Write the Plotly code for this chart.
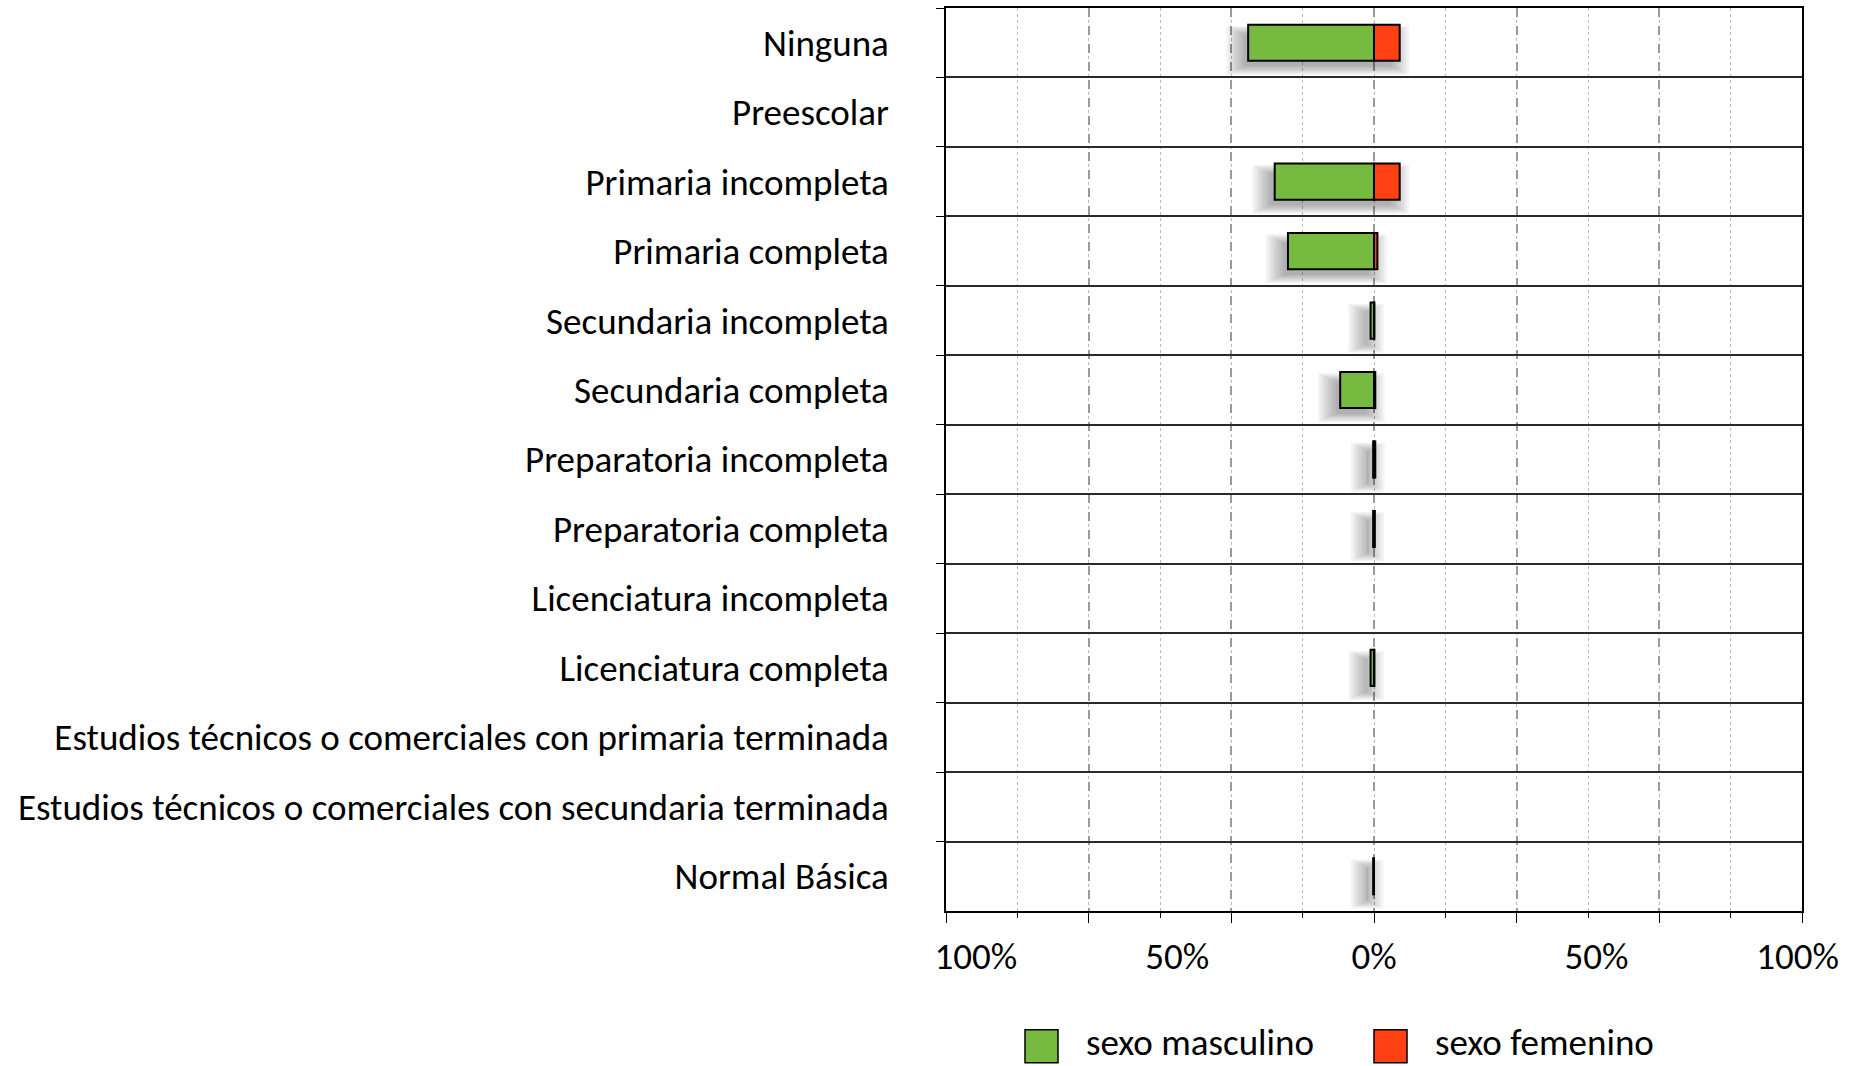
import plotly.graph_objects as go

# ---------------- data ----------------
CATEGORIES = [
    "Ninguna",
    "Preescolar",
    "Primaria incompleta",
    "Primaria completa",
    "Secundaria incompleta",
    "Secundaria completa",
    "Preparatoria incompleta",
    "Preparatoria completa",
    "Licenciatura incompleta",
    "Licenciatura completa",
    "Estudios técnicos o comerciales con primaria terminada",
    "Estudios técnicos o comerciales con secundaria terminada",
    "Normal Básica",
]
MASCULINO = [0.294, 0.0, 0.232, 0.201, 0.008, 0.079, 0.002, 0.002, 0.0, 0.008, 0.0, 0.0, 0.002]
FEMENINO = [0.060, 0.0, 0.060, 0.008, 0.001, 0.003, 0.003, 0.002, 0.0, 0.001, 0.0, 0.0, 0.0]

X_LABEL_POS = [-0.93, -0.46, 0.0, 0.52, 0.99]
X_LABEL_TEXT = ["100%", "50%", "0%", "50%", "100%"]
X_MAJOR = [-1, -2 / 3, -1 / 3, 0, 1 / 3, 2 / 3, 1]
X_MINOR = [i / 6 for i in range(-6, 7)]

SERIES_NAMES = ["sexo masculino", "sexo femenino"]
GREEN = "#76BB40"
RED = "#FF4013"

FONT = "Carlito, Calibri, Lato, sans-serif"
FS = 37

BAR_W = 0.52

# ---------------- figure ----------------
fig = go.Figure()

# soft drop shadows (several translucent layers)
has = [(m + f) > 0 for m, f in zip(MASCULINO, FEMENINO)]
for k in range(8):
    blur = 0.006 * k
    w = BAR_W - 0.06 + 0.035 * k
    fig.add_trace(go.Bar(
        y=[c for c, h in zip(CATEGORIES, has) if h],
        x=[m + f + 2 * blur - 0.01 for m, f, h in zip(MASCULINO, FEMENINO, has) if h],
        base=[-m - blur - 0.01 for m, h in zip(MASCULINO, has) if h],
        orientation="h", width=w, offset=-w / 2 + 0.11,
        marker=dict(color="rgba(0,0,0,0.045)", line=dict(width=0)),
        hoverinfo="skip", showlegend=False,
    ))

fig.add_trace(go.Bar(
    y=CATEGORIES, x=[-v if v else None for v in MASCULINO], orientation="h",
    name=SERIES_NAMES[0], width=BAR_W,
    marker=dict(color=GREEN, line=dict(color="black", width=2)),
    showlegend=False,
))
fig.add_trace(go.Bar(
    y=CATEGORIES, x=[v if v else None for v in FEMENINO], orientation="h",
    name=SERIES_NAMES[1], width=BAR_W,
    marker=dict(color=RED, line=dict(color="black", width=2)),
    showlegend=False,
))
# helper trace to activate the label axis
fig.add_trace(go.Scatter(
    x=[0], y=[CATEGORIES[0]], xaxis="x2", mode="markers",
    marker=dict(opacity=0), hoverinfo="skip", showlegend=False,
))

W, H = 1851, 1066
L, R, T, B = 946, 49, 6, 155

fig.update_layout(
    width=W, height=H,
    margin=dict(l=L, r=R, t=T, b=B),
    barmode="overlay",
    plot_bgcolor="white",
    paper_bgcolor="white",
    font=dict(family=FONT, size=FS, color="black"),
    showlegend=False,
    xaxis=dict(
        range=[-1, 1],
        tickvals=X_MAJOR,
        showticklabels=False,
        ticks="outside", ticklen=10, tickcolor="black", tickwidth=1.2,
        showgrid=True, griddash="dash", gridcolor="#9a9a9a", gridwidth=1.6,
        minor=dict(tickvals=X_MINOR, ticks="outside", ticklen=5,
                   tickcolor="black", showgrid=True, griddash="dot",
                   gridcolor="#b8b8b8", gridwidth=1.2),
        zeroline=False,
        showline=True, linecolor="black", linewidth=1.5, mirror=True,
    ),
    xaxis2=dict(
        overlaying="x", matches="x", anchor="y", side="bottom",
        range=[-1, 1],
        tickvals=X_LABEL_POS, ticktext=X_LABEL_TEXT,
        ticks="", showgrid=False, zeroline=False, showline=False,
        tickfont=dict(family=FONT, size=FS, color="black"),
        ticklabelstandoff=20,
    ),
    yaxis=dict(
        type="category",
        categoryorder="array", categoryarray=CATEGORIES,
        range=[len(CATEGORIES) - 0.5, -0.5],
        tickson="boundaries",
        ticks="outside", ticklen=8, tickcolor="black", tickwidth=1.2,
        showgrid=True, gridcolor="#2a2a2a", gridwidth=1.6,
        showline=True, linecolor="black", linewidth=1.5, mirror=True,
        tickfont=dict(family=FONT, size=FS, color="black"),
        ticklabelstandoff=48,
    ),
)

# ---------------- manual legend ----------------
pw, ph = W - L - R, H - T - B


def px_x(px):
    return (px - L) / pw


def px_y(py):
    return (H - B - py) / ph


legend_items = [
    (SERIES_NAMES[0], GREEN, 1025, 1085),
    (SERIES_NAMES[1], RED, 1374, 1434),
]
for name, color, sq_left, txt_left in legend_items:
    fig.add_shape(
        type="rect", xref="paper", yref="paper",
        x0=px_x(sq_left), x1=px_x(sq_left + 33),
        y0=px_y(1063), y1=px_y(1030),
        fillcolor=color, line=dict(color="black", width=1.5),
    )
    fig.add_annotation(
        xref="paper", yref="paper", x=px_x(txt_left), y=px_y(1043),
        text=name, showarrow=False, xanchor="left", yanchor="middle",
        borderpad=0,
        font=dict(family=FONT, size=FS, color="black"),
    )

fig.write_html("out.html", config={"displayModeBar": False},
               post_script="document.body.style.margin='0';")
